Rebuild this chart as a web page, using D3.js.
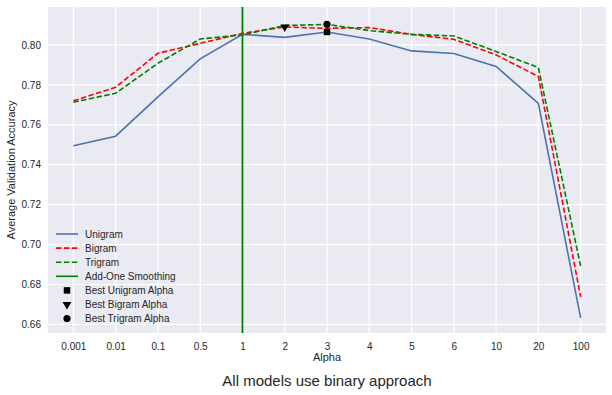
<!DOCTYPE html>
<html>
<head>
<meta charset="utf-8">
<script src="https://cdn.jsdelivr.net/npm/d3@7"></script>
<style>
  body { margin: 0; background: #fff; }
  text { font-family: "Liberation Sans", Arial, sans-serif; fill: #262626; }
</style>
</head>
<body>
<div id="chart"></div>
<script>
const width = 612
const height = 395
const margin = {top: 7, right: 6, bottom: 62, left: 48}

// alpha values used as categories on the x axis
const alphas = ["0.001", "0.01", "0.1", "0.5", "1", "2", "3", "4", "5", "6", "10", "20", "100"]

const unigram = [0.7495, 0.7543, 0.7740, 0.7930, 0.8053, 0.8038, 0.8065, 0.8030, 0.7970, 0.7957, 0.7892, 0.7707, 0.6633]
const bigram  = [0.7720, 0.7788, 0.7958, 0.8008, 0.8058, 0.8090, 0.8083, 0.8087, 0.8053, 0.8028, 0.7950, 0.7842, 0.6738]
const trigram = [0.7713, 0.7758, 0.7908, 0.8030, 0.8050, 0.8097, 0.8103, 0.8072, 0.8053, 0.8045, 0.7967, 0.7887, 0.6892]

const yTicks = [0.66, 0.68, 0.70, 0.72, 0.74, 0.76, 0.78, 0.80]
const bestUnigram = {alpha: "3", value: 0.8065}
const bestBigram = {alpha: "2", value: 0.8090}
const bestTrigram = {alpha: "3", value: 0.8103}

const svg = d3.select("#chart")
  .append("svg")
  .attr("width", width)
  .attr("height", height)

const x = d3.scalePoint()
  .domain(alphas)
  .range([margin.left, width - margin.right])
  .padding(0.6)

const y = d3.scaleLinear()
  .domain([0.6557, 0.819])
  .range([height - margin.bottom, margin.top])

svg.append("rect")
  .attr("x", margin.left)
  .attr("y", margin.top)
  .attr("width", width - margin.left - margin.right)
  .attr("height", height - margin.top - margin.bottom)
  .attr("fill", "#EAEAF2")

// grid
svg.append("g").selectAll("line")
  .data(alphas)
  .join("line")
    .attr("x1", d => x(d)).attr("x2", d => x(d))
    .attr("y1", margin.top).attr("y2", height - margin.bottom)
    .attr("stroke", "white").attr("stroke-width", 1.2)

svg.append("g").selectAll("line")
  .data(yTicks)
  .join("line")
    .attr("x1", margin.left).attr("x2", width - margin.right)
    .attr("y1", d => y(d)).attr("y2", d => y(d))
    .attr("stroke", "white").attr("stroke-width", 1.2)

// axes (labels only, seaborn darkgrid style)
const xAxis = svg.append("g")
  .attr("transform", `translate(0,${height - margin.bottom})`)
  .call(d3.axisBottom(x).tickSize(0).tickPadding(10))
xAxis.select(".domain").remove()
xAxis.selectAll("text").attr("font-size", "10px").attr("fill", "#262626")

const yAxis = svg.append("g")
  .attr("transform", `translate(${margin.left},0)`)
  .call(d3.axisLeft(y).tickValues(yTicks).tickFormat(d3.format(".2f")).tickSize(0).tickPadding(7))
yAxis.select(".domain").remove()
yAxis.selectAll("text").attr("font-size", "10px").attr("fill", "#262626")

svg.append("text")
  .attr("x", (margin.left + width - margin.right) / 2)
  .attr("y", 361)
  .attr("text-anchor", "middle")
  .attr("font-size", "11px")
  .text("Alpha")

svg.append("text")
  .attr("transform", `translate(15,${(margin.top + height - margin.bottom) / 2}) rotate(-90)`)
  .attr("text-anchor", "middle")
  .attr("font-size", "11px")
  .text("Average Validation Accuracy")

svg.append("text")
  .attr("x", (margin.left + width - margin.right) / 2)
  .attr("y", 386)
  .attr("text-anchor", "middle")
  .attr("font-size", "15px")
  .text("All models use binary approach")

// add-one smoothing line
svg.append("line")
  .attr("x1", x("1")).attr("x2", x("1"))
  .attr("y1", margin.top).attr("y2", height - margin.bottom)
  .attr("stroke", "#008000").attr("stroke-width", 1.8)

const line = d3.line()
  .x((d, i) => x(alphas[i]))
  .y(d => y(d))

const series = [
  {name: "Unigram", values: unigram, color: "#4C72B0", dash: null},
  {name: "Bigram", values: bigram, color: "#FF0000", dash: "5.5,2.4"},
  {name: "Trigram", values: trigram, color: "#008000", dash: "5.5,2.4"}
]

series.forEach(s => {
  svg.append("path")
    .datum(s.values)
    .attr("fill", "none")
    .attr("stroke", s.color)
    .attr("stroke-width", 1.6)
    .attr("stroke-dasharray", s.dash)
    .attr("d", line)
})

// best markers
const sym = {
  square: d3.symbol().type(d3.symbolSquare).size(42),
  triangle: d3.symbol().type(d3.symbolTriangle).size(34),
  circle: d3.symbol().type(d3.symbolCircle).size(40)
}

svg.append("path")
  .attr("d", sym.square())
  .attr("transform", `translate(${x(bestUnigram.alpha)},${y(bestUnigram.value)})`)
svg.append("path")
  .attr("d", sym.triangle())
  .attr("transform", `translate(${x(bestBigram.alpha)},${y(bestBigram.value)}) rotate(180)`)
svg.append("path")
  .attr("d", sym.circle())
  .attr("transform", `translate(${x(bestTrigram.alpha)},${y(bestTrigram.value)})`)

// legend
const legendItems = [
  {label: "Unigram", type: "line", color: "#4C72B0", dash: null},
  {label: "Bigram", type: "line", color: "#FF0000", dash: "5.5,2.4"},
  {label: "Trigram", type: "line", color: "#008000", dash: "5.5,2.4"},
  {label: "Add-One Smoothing", type: "line", color: "#008000", dash: null},
  {label: "Best Unigram Alpha", type: "square"},
  {label: "Best Bigram Alpha", type: "triangle"},
  {label: "Best Trigram Alpha", type: "circle"}
]

const legend = svg.append("g").attr("transform", "translate(56,234)")
legendItems.forEach((it, i) => {
  const g = legend.append("g").attr("transform", `translate(0,${i * 14.1})`)
  if (it.type === "line") {
    g.append("line")
      .attr("x1", 0).attr("x2", 22)
      .attr("stroke", it.color)
      .attr("stroke-width", 1.6)
      .attr("stroke-dasharray", it.dash)
  } else {
    g.append("path")
      .attr("d", sym[it.type]())
      .attr("transform", `translate(11,0)` + (it.type === "triangle" ? " rotate(180)" : ""))
  }
  g.append("text")
    .attr("x", 29)
    .attr("y", 3.6)
    .attr("font-size", "10px")
    .text(it.label)
})
</script>
</body>
</html>
